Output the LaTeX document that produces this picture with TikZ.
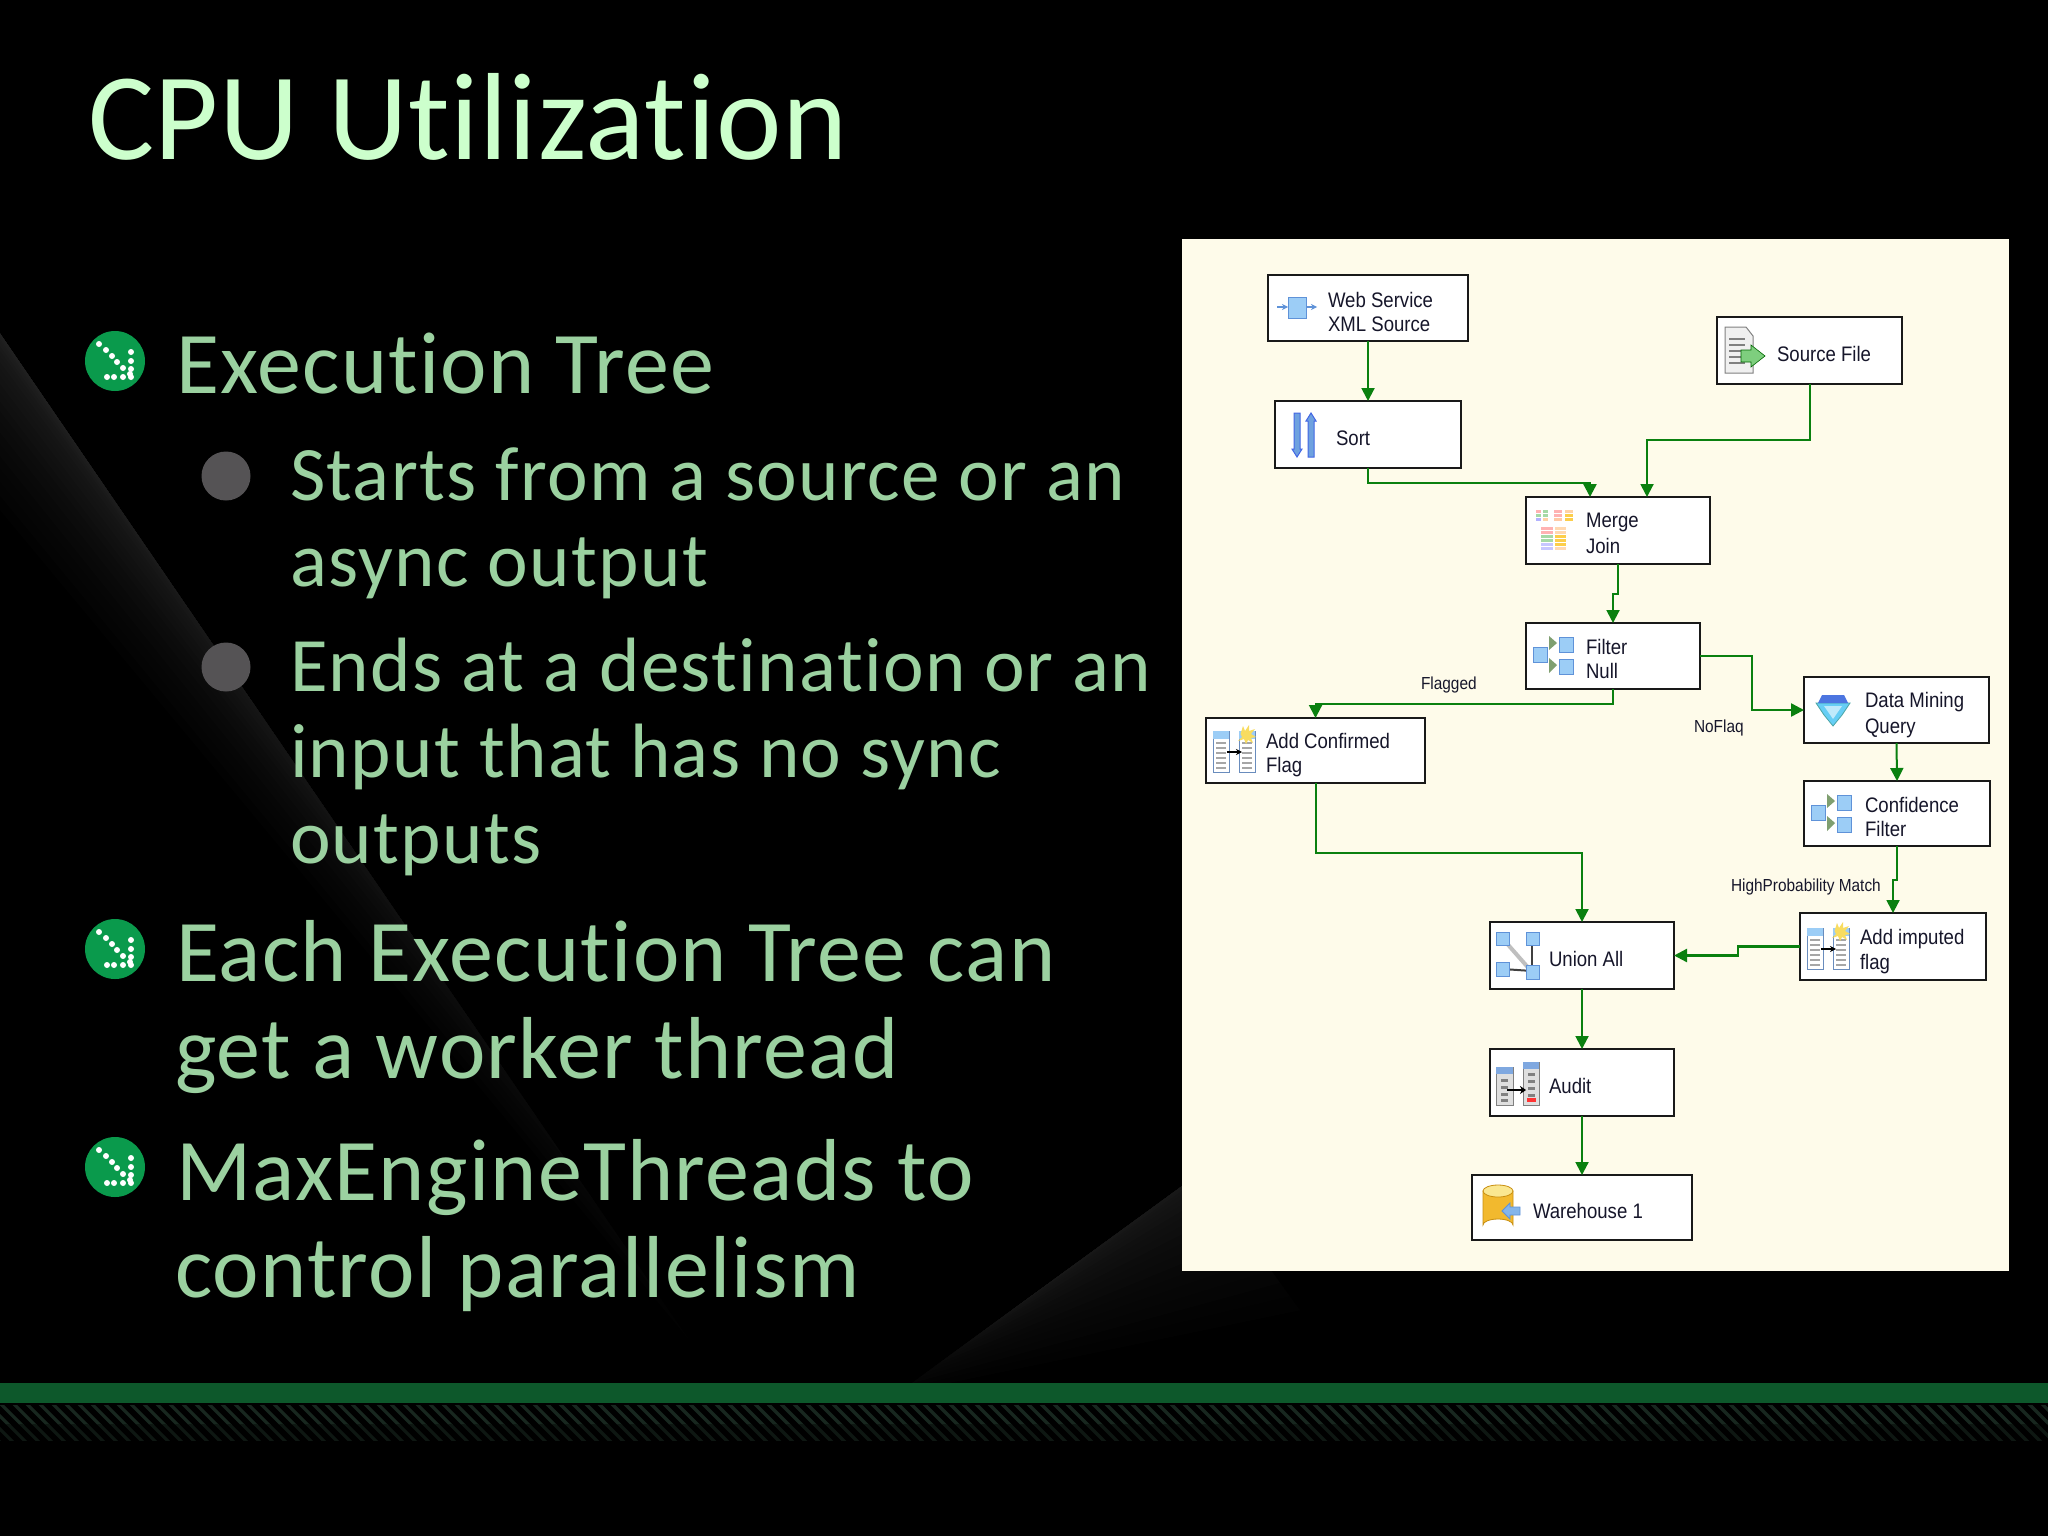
\documentclass[tikz,border=0pt]{standalone}
\usepackage{fontspec}
\usetikzlibrary{arrows.meta,calc}
\setmainfont{Carlito}[Ligatures=NoCommon]
\newfontfamily\titlef{Carlito}[Ligatures=NoCommon,LetterSpace=0.6]
\newfontfamily\bodyf{Carlito}[Ligatures=NoCommon,LetterSpace=1.5]
\newfontfamily\subf{Carlito}[Ligatures=NoCommon,LetterSpace=1.8]
\newfontfamily\uifont[FakeStretch=0.885]{Liberation Sans}
\definecolor{titlec}{HTML}{CCFFCC}
\definecolor{bodyc}{HTML}{9BD1A0}
\definecolor{bulgreen}{HTML}{0A9A4C}
\definecolor{bulgray}{HTML}{555355}
\definecolor{panelc}{HTML}{FEFBEA}
\definecolor{connc}{HTML}{0A800F}
\definecolor{iconb}{HTML}{9CCDF6}
\definecolor{iconbd}{HTML}{5F92D8}
\definecolor{uitext}{HTML}{16162A}
\definecolor{bandc}{HTML}{0D582B}
\definecolor{hatcha}{HTML}{18271F}
\definecolor{hatchb}{HTML}{0E1712}
\definecolor{trig}{HTML}{7F9F70}
\definecolor{gold}{HTML}{F2B92E}
\definecolor{golddk}{HTML}{C98F10}
\definecolor{starc}{HTML}{F8DC60}
\newcommand{\twol}[3]{\vtop{\baselineskip=#1pt\lineskiplimit=-20pt\hbox{#2}\hbox{#3}}}
\newcommand{\comp}[5]{\node[compbox,minimum width={(#4-#2)*0.5pt},minimum height={(#5-#3)*0.5pt}] (#1) at ({(#2+#4)/2},{(#3+#5)/2}) {};}
\newcommand{\bsq}[4]{\fill[iconb,draw=iconbd,line width=0.5pt] (#1,#2) rectangle (#3,#4);}
\newcommand{\gbul}[2]{\begin{scope}[shift={(#1,#2)}]
 \fill[bulgreen] (0,0) circle[radius=30];
 \foreach \dx/\dy in {-16/-17,-9/-11,-3/-5,2/1,8/7,15/13,-8/16,-1/16,8/16,16/16,16/-9,16/0,16/8}{\fill[white] (\dx,\dy) circle[radius=3];}
 \end{scope}}
\newcommand{\filticon}[2]{\begin{scope}[shift={(#1,#2)}]
 \bsq{0}{0}{14}{15}\bsq{26}{-10}{40}{5}\bsq{26}{12}{40}{27}
 \fill[trig] (16,-11)--(24,-4)--(16,3)--cycle;
 \fill[trig] (16,11)--(24,18)--(16,26)--cycle;
 \end{scope}}
\newcommand{\colicon}[2]{\begin{scope}[shift={(#1,#2)}]
 \foreach \cx in {0,26}{
 \fill[white,draw=iconbd!70!gray,line width=0.5pt] (\cx,0) rectangle ++(16,41);
 \fill[iconb] (\cx,0) rectangle ++(16,8);
 \foreach \ly in {12,17,...,37}{\draw[gray!70,line width=0.6pt] (\cx+3,\ly)--(\cx+13,\ly);}}
 \draw[black,line width=0.7pt,-{Stealth[length=3pt,width=3pt]}] (14,21)--(29,21);
 \fill[starc] (27.5,3) -- (30,-5) -- (32,0) -- (36,-6) -- (36,0) -- (42,-2) -- (38,3) -- (43,6) -- (38,7) -- (40,12) -- (35,9) -- (33,13) -- (31,8) -- (25,10) -- (29,6) -- cycle;
 \end{scope}}
\newcommand{\stripes}[4]{\foreach \row/\cl in {#4}{\fill[\cl] (#1,#3+\row) rectangle (#2,#3+\row+2.6);}}
\tikzset{
 compbox/.style={draw=black!90,line width=1pt,fill=white,inner sep=0pt,outer sep=0pt},
 uilab/.style={anchor=base west,inner sep=0pt,outer sep=0pt,font=\uifont\fontsize{10.5}{12}\selectfont,text=uitext},
 edgelab/.style={anchor=base west,inner sep=0pt,outer sep=0pt,font=\uifont\fontsize{8.7}{10}\selectfont,text=uitext},
 conn/.style={draw=connc,line width=1pt,-{Triangle[length=6.5pt,width=6.5pt]}},
 connb/.style={draw=connc,line width=1.2pt,-{Triangle[length=6.5pt,width=6.5pt]}},
 titletext/.style={anchor=base west,inner sep=0pt,outer sep=0pt,text=titlec,font=\titlef\fontsize{62}{70}\selectfont},
 bodytext/.style={anchor=base west,inner sep=0pt,outer sep=0pt,text=bodyc,font=\bodyf\fontsize{44}{50}\selectfont},
 subtext/.style={anchor=base west,inner sep=0pt,outer sep=0pt,text=bodyc,font=\subf\fontsize{38.5}{44}\selectfont},
}
\begin{document}
\begin{tikzpicture}[x=0.5pt,y=-0.5pt]
\useasboundingbox (0,0) rectangle (2048,1536);
\fill[black] (0,0) rectangle (2048,1536);
% background wedges
\begin{scope}
\clip (0,0) rectangle (2048,1383);
\foreach \k in {0,...,22}{
 \pgfmathsetmacro{\f}{\k/23}
 \pgfmathsetmacro{\lng}{1238*(1-\f)}
 \pgfmathsetmacro{\wid}{115*(1-\f)*(1-\f)}
 \pgfmathsetmacro{\gv}{(2+1.5*\k)/255}
 \definecolor{wg}{gray}{\gv}
 \fill[wg] (-10,319) -- ({-10+0.565*\lng},{319+0.825*\lng}) -- ({-10-0.825*\wid},{319+0.565*\wid}) -- cycle;
}
\foreach \k in {0,...,18}{
 \pgfmathsetmacro{\f}{\k/19}
 \pgfmathsetmacro{\lng}{375*(1-0.45*\f)}
 \pgfmathsetmacro{\wid}{170*(1-\f)*(1-\f)}
 \pgfmathsetmacro{\gv}{(2+1.3*\k)/255}
 \definecolor{wg}{gray}{\gv}
 \fill[wg] (1200,1173) -- ({1200-0.808*\lng},{1173+0.589*\lng}) -- ({1200+0.589*\wid},{1173+0.808*\wid}) -- cycle;
}
\end{scope}
% bottom band
\fill[bandc] (0,1383) rectangle (2048,1403);
\begin{scope}
\clip (0,1405) rectangle (2048,1424);
\foreach \hx in {-60,-47,...,2060}{\draw[hatcha,line width=1.6pt] (\hx,1395) -- ++(50,50);}
\end{scope}
\begin{scope}
\clip (0,1424) rectangle (2048,1440);
\foreach \hx in {-60,-47,...,2060}{\draw[hatchb,line width=1.6pt] (\hx,1395) -- ++(50,50);}
\end{scope}
% slide text
\node[titletext] (title) at (88,159) {CPU Utilization};
\gbul{115}{361}\gbul{115}{949}\gbul{115}{1167}
\fill[bulgray] (226,476) circle[radius=24.5];
\fill[bulgray] (226,667) circle[radius=24.5];
\node[bodytext] (b1) at (176,393) {Execution Tree};
\node[subtext] (s1a) at (290,500) {Starts from a source or an};
\node[subtext] (s1b) at (290,586) {async output};
\node[subtext] (s2a) at (290,691) {Ends at a destination or an};
\node[subtext] (s2b) at (290,777) {input that has no sync};
\node[subtext] (s2c) at (290,863) {outputs};
\node[bodytext] (b2a) at (176,981) {Each Execution Tree can};
\node[bodytext] (b2b) at (175,1078) {get a worker thread};
\node[bodytext] (b3a) at (176,1200) {MaxEngineThreads to};
\node[bodytext] (b3b) at (175,1297) {control parallelism};
% panel
\fill[panelc] (1182,239) rectangle (2009,1271);
% components
\comp{web}{1268}{275}{1468}{341}
\comp{source}{1717}{317}{1902}{384}
\comp{sort}{1275}{401}{1461}{468}
\comp{merge}{1526}{497}{1710}{564}
\comp{filter}{1526}{623}{1700}{689}
\comp{data}{1804}{677}{1989}{743}
\comp{addconf}{1206}{718}{1425}{783}
\comp{conf}{1804}{781}{1990}{846}
\comp{imputed}{1800}{913}{1986}{980}
\comp{union}{1490}{922}{1674}{989}
\comp{audit}{1490}{1049}{1674}{1116}
\comp{ware}{1472}{1175}{1692}{1240}
% connectors
\draw[conn] (web.south) -- (sort.north);
\draw[connb] (sort.south) -- ++(0,15) -| ([xshift=-14pt]merge.north);
\draw[conn] (source.south) -- ++(0,56) -| ([xshift=14.5pt]merge.north);
\draw[conn] (merge.south) -- ++(0,30) -| (filter.north);
\draw[conn] (filter.south) -- ++(0,15) -| (addconf.north);
\draw[connb] (filter.east) -- ++(52,0) |- (data.west);
\draw[conn] (data.south) -- (conf.north);
\draw[conn] (conf.south) -- ++(0,34) -| (imputed.north);
\draw[conn] (addconf.south) -- ++(0,70) -| (union.north);
\draw[connb] (imputed.west) -- ++(-62,0) |- (union.east);
\draw[conn] (union.south) -- (audit.north);
\draw[conn] (audit.south) -- (ware.north);
% component labels
\node[uilab] (webT) at (1328,307) {\twol{12.2}{Web Service}{XML Source}};
\node[uilab] (sourceT) at (1777,361) {Source File};
\node[uilab] (sortT) at (1336,445.5) {Sort};
\node[uilab] (mergeT) at (1586,527.5) {\twol{13}{Merge}{Join}};
\node[uilab] (filterT) at (1586,654.5) {\twol{12}{Filter}{Null}};
\node[uilab] (dataT) at (1865,707) {\twol{13}{Data Mining}{Query}};
\node[uilab] (addconfT) at (1266,748.5) {\twol{12}{Add Confirmed}{Flag}};
\node[uilab] (confT) at (1865,812) {\twol{12}{Confidence}{Filter}};
\node[uilab] (imputedT) at (1860,944) {\twol{12.5}{Add imputed}{flag}};
\node[uilab] (unionT) at (1549,966) {Union All};
\node[uilab] (auditT) at (1549,1093) {Audit};
\node[uilab] (wareT) at (1533,1218) {Warehouse 1};
\node[edgelab] (flagged) at (1421,689) {Flagged};
\node[edgelab] (noflag) at (1694,732) {NoFlaq};
\node[edgelab] (highp) at (1731,891) {HighProbability Match};
% icons
\bsq{1288}{297}{1306}{318}
\draw[iconbd,line width=0.7pt,-{Stealth[length=3pt,width=3pt]}] (1277,307)--(1288,307);
\draw[iconbd,line width=0.7pt,-{Stealth[length=3pt,width=3pt]}] (1306,307)--(1317,307);
% sort
\fill[iconbd!75!iconb,draw=iconbd!70!blue,line width=0.5pt] (1294,413)--(1300,413)--(1300,449)--(1302,449)--(1297,457)--(1292,449)--(1294,449)--cycle;
\fill[iconbd!75!iconb,draw=iconbd!70!blue,line width=0.5pt] (1308,457)--(1314,457)--(1314,421)--(1316,421)--(1311,413)--(1306,421)--(1308,421)--cycle;
% source file
\fill[gray!12,draw=gray,line width=0.5pt] (1725,327)--(1746,327)--(1753,336)--(1753,373)--(1725,373)--cycle;
\foreach \ly in {339,345,351,357,363}{\draw[gray,line width=0.8pt] (1729,\ly)--(1745,\ly);}
\fill[green!45!gray!70,draw=green!40!black,line width=0.3pt] (1741,350)--(1751,350)--(1751,345)--(1765,356)--(1751,367)--(1751,362)--(1741,362)--cycle;
% merge join
\stripes{1536}{1541}{510}{0/red!30,4/green!40!gray!50,8/blue!30}
\stripes{1543}{1548}{510}{0/green!40!gray!50,4/green!40!gray!50,8/orange!35}
\stripes{1554}{1562}{510}{0/red!30,4/red!30,8/red!20!orange!35}
\stripes{1565}{1573}{510}{0/orange!35,4/yellow!50!orange!70,8/yellow!50!orange!70}
\stripes{1541}{1553}{527}{0/red!30,4/red!30,8/green!40!gray!50,12/green!40!gray!50,16/blue!22,20/blue!22}
\stripes{1555}{1566}{527}{0/orange!30,4/orange!30,8/yellow!50!orange!70,12/yellow!50!orange!70,16/yellow!50!orange!70,20/orange!30}
% filters
\filticon{1533}{647}
\filticon{1811}{805}
% derived columns
\colicon{1213}{731}
\colicon{1807}{928}
% data mining
\fill[cyan!60!white,draw=teal!70,line width=0.4pt] (1816,703)--(1850,703)--(1842,715)--(1833,726)--(1824,715)--cycle;
\fill[iconbd!80!blue] (1822,695)--(1844,695)--(1848,703)--(1818,703)--cycle;
\fill[cyan!25!white] (1824,706)--(1842,706)--(1833,719)--cycle;
% union all
\draw[gray!50,line width=2pt] (1503,939)--(1532,972);
\draw[gray!50!black,line width=1pt] (1532,939)--(1532,972);
\draw[gray!50!black,line width=1pt] (1503,969)--(1532,971);
\bsq{1496}{932}{1509}{945}\bsq{1526}{932}{1539}{945}\bsq{1496}{962}{1509}{976}\bsq{1526}{965}{1539}{979}
% audit
\fill[gray!25,draw=gray,line width=0.5pt] (1496,1067) rectangle (1513,1105);
\fill[gray!25,draw=gray,line width=0.5pt] (1523,1062) rectangle (1539,1105);
\fill[iconbd!80] (1496,1067) rectangle (1513,1074);
\fill[iconbd!80] (1523,1062) rectangle (1539,1069);
\foreach \ly in {1079,1086,1093,1099}{\fill[gray] (1501,\ly) rectangle (1508,\ly+3);}
\foreach \ly in {1073,1080,1087,1094}{\fill[gray] (1528,\ly) rectangle (1535,\ly+3);}
\fill[red!80] (1527,1098) rectangle (1536,1102);
\draw[black,line width=1pt,-{Stealth[length=3pt,width=4pt]}] (1507,1090)--(1526,1090);
% warehouse
\fill[gold,draw=golddk,line width=0.4pt] (1483,1191)--(1483,1225) arc[start angle=180,end angle=360,x radius=15,y radius=6]--(1513,1191)--cycle;
\fill[starc!70!white,draw=golddk,line width=0.4pt] (1498,1191) ellipse[x radius=15,y radius=6];
\fill[iconb!60!iconbd,draw=iconbd,line width=0.4pt] (1502,1211)--(1510,1203)--(1510,1207)--(1520,1207)--(1520,1215)--(1510,1215)--(1510,1219)--cycle;
\end{tikzpicture}
\end{document}
